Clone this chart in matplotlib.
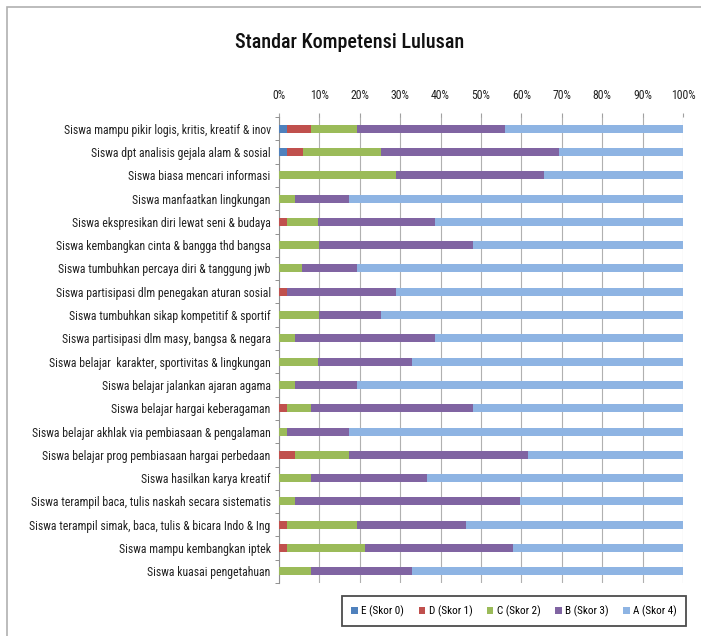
import matplotlib
matplotlib.use("Agg")
import matplotlib.pyplot as plt
from matplotlib import font_manager
from matplotlib.patches import Rectangle
import numpy as np

# pick a narrow font if one is installed
names = {f.name for f in font_manager.fontManager.ttflist}
fam = "DejaVu Sans"
for cand in ["Liberation Sans Narrow", "DejaVu Sans Condensed", "Roboto Condensed", "Open Sans Condensed"]:
    if cand in names:
        fam = cand
        break
plt.rcParams["font.family"] = [fam, "DejaVu Sans"]

categories = [
    "Siswa mampu pikir logis, kritis, kreatif & inov",
    "Siswa dpt analisis gejala alam & sosial",
    "Siswa biasa mencari informasi",
    "Siswa manfaatkan lingkungan",
    "Siswa ekspresikan diri lewat seni & budaya",
    "Siswa kembangkan cinta & bangga thd bangsa",
    "Siswa tumbuhkan percaya diri & tanggung jwb",
    "Siswa partisipasi dlm penegakan aturan sosial",
    "Siswa tumbuhkan sikap kompetitif & sportif",
    "Siswa partisipasi dlm masy, bangsa & negara",
    "Siswa belajar  karakter, sportivitas & lingkungan",
    "Siswa belajar jalankan ajaran agama",
    "Siswa belajar hargai keberagaman",
    "Siswa belajar akhlak via pembiasaan & pengalaman",
    "Siswa belajar prog pembiasaan hargai perbedaan",
    "Siswa hasilkan karya kreatif",
    "Siswa terampil baca, tulis naskah secara sistematis",
    "Siswa terampil simak, baca, tulis & bicara Indo & Ing",
    "Siswa mampu kembangkan iptek",
    "Siswa kuasai pengetahuan",
]

# percentages per score
skor0 = [1.9, 2.0, 0, 0, 0, 0, 0, 0, 0, 0, 0, 0, 0, 0, 0, 0, 0, 0, 0, 0]
skor1 = [5.9, 3.9, 0, 0, 1.9, 0, 0, 1.9, 0, 0, 0, 0, 1.9, 0, 3.9, 0, 0, 1.9, 1.9, 0]
skor2 = [11.6, 19.3, 28.9, 3.9, 7.8, 10.0, 5.8, 0, 9.9, 4.0, 9.7, 4.0, 5.9, 2.0, 13.5, 7.8, 4.0, 17.5, 19.4, 7.8]
skor3 = [36.6, 44.1, 36.6, 13.5, 28.8, 38.0, 13.6, 27.0, 15.3, 34.6, 23.1, 15.4, 40.3, 15.4, 44.2, 28.8, 55.6, 26.9, 36.5, 25.0]
skor4 = [100 - a - b - c - d for a, b, c, d in zip(skor0, skor1, skor2, skor3)]

series = [skor0, skor1, skor2, skor3, skor4]
labels = ["E (Skor 0)", "D (Skor 1)", "C (Skor 2)", "B (Skor 3)", "A (Skor 4)"]
colors = ["#4F81BD", "#C0504D", "#9BBB59", "#8064A2", "#8EB4E3"]

fig = plt.figure(figsize=(7.01, 6.36), dpi=100)
ax = fig.add_axes([279 / 701, 1 - 583 / 636, 404 / 701, 466 / 636])

y = np.arange(len(categories))
left = np.zeros(len(categories))
for vals, lab, col in zip(series, labels, colors):
    vals = np.array(vals)
    ax.barh(y, vals, left=left, height=0.34, color=col, label=lab, zorder=3)
    left += vals

ax.set_xlim(0, 100)
ax.set_ylim(len(categories) - 0.5, -0.5)
ax.set_xticks(range(0, 101, 10))
ax.set_xticklabels([f"{v}%" for v in range(0, 101, 10)])
ax.xaxis.tick_top()
ax.tick_params(axis="x", length=3, color="#A0A0A0", labelsize=8.5, pad=8, labelcolor="#222222")
ax.set_yticks(y)
ax.set_yticklabels(categories)
ax.tick_params(axis="y", length=0, labelsize=8.5, pad=6, labelcolor="#222222")
ax.set_yticks(np.arange(-0.5, len(categories), 1), minor=True)
ax.tick_params(axis="y", which="minor", length=3, color="#808080")
ax.grid(axis="x", color="#B0B0B0", linewidth=0.8, zorder=0)
for s in ["top", "right", "bottom"]:
    ax.spines[s].set_visible(False)
ax.spines["left"].set_color("#909090")

fig.text(350 / 701, 1 - 42 / 636, "Standar Kompetensi Lulusan", ha="center", va="center",
         fontsize=14.5, fontweight="medium", color="#111111")

leg = fig.legend(loc="center", bbox_to_anchor=(514 / 701, 1 - 611 / 636), ncol=5,
                 fontsize=8, frameon=True, fancybox=False, edgecolor="#202020",
                 handlelength=0.6, handleheight=0.6, handletextpad=0.3, columnspacing=1.3,
                 borderpad=0.8)
leg.get_frame().set_linewidth(1.3)

# outer chart border
fig.patches.append(Rectangle((7 / 701, -0.1), 1.2, 1 - 7 / 636 + 0.1, transform=fig.transFigure,
                             fill=False, edgecolor="#B0B0B0", linewidth=1.2))

plt.savefig("out.png", dpi=100)
